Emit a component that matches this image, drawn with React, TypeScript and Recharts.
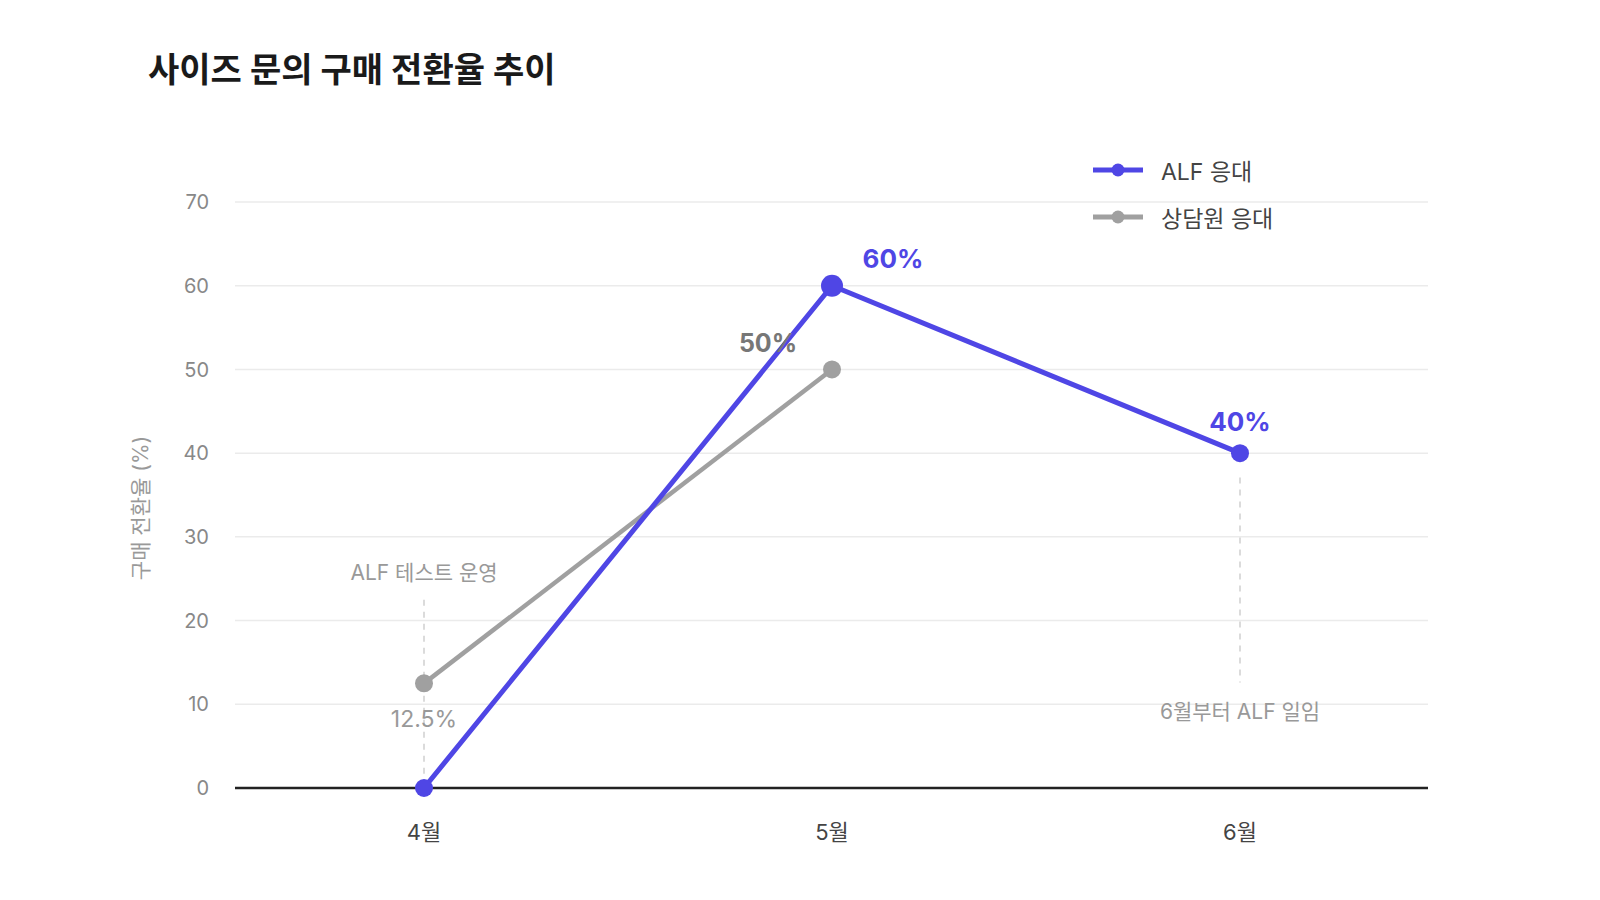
import React from "react";
import {
  LineChart,
  Line,
  XAxis,
  YAxis,
  CartesianGrid,
  Legend,
  LabelList,
  ReferenceLine,
  ReferenceDot,
} from "recharts";

const months = ["4월", "5월", "6월"];
const alfValues = [0, 60, 40];
const agentValues: (number | null)[] = [12.5, 50, null];
const yTicks = [0, 10, 20, 30, 40, 50, 60, 70];

const BLUE = "#4F46E5";
const GRAY = "#A0A0A0";
const FONT = "Inter, 'Noto Sans CJK KR', sans-serif";

const data = months.map((m, i) => ({ month: m, alf: alfValues[i], agent: agentValues[i] }));

const BlueDot = (props: any) => {
  const { cx, cy, index } = props;
  if (cx == null || cy == null) return null;
  return <circle cx={cx} cy={cy} r={index === 1 ? 11 : 9} fill={BLUE} />;
};

const GrayDot = (props: any) => {
  const { cx, cy } = props;
  if (cx == null || cy == null) return null;
  return <circle cx={cx} cy={cy} r={9} fill={GRAY} />;
};

const alfLabel = (props: any) => {
  const { x, y, value, index } = props;
  if (!value) return null;
  const dx = index === 1 ? 61 : 0;
  const dy = index === 1 ? -27 : -31;
  return (
    <text x={x + dx} y={y + dy} dy={9} textAnchor="middle" fill={BLUE} fontSize={26} fontWeight={700} fontFamily={FONT}>
      {value}%
    </text>
  );
};

const agentLabel = (props: any) => {
  const { x, y, value, index } = props;
  if (value == null) return null;
  if (index === 0) {
    return (
      <text x={x} y={y + 36} dy={8} textAnchor="middle" fill="#999" fontSize={23} fontFamily={FONT}>
        {value}%
      </text>
    );
  }
  return (
    <text x={x - 64} y={y - 26} dy={9} textAnchor="middle" fill="#777" fontSize={25} fontWeight={700} fontFamily={FONT}>
      {value}%
    </text>
  );
};

const legendItems = [
  { name: "ALF 응대", color: BLUE },
  { name: "상담원 응대", color: GRAY },
];

const LegendContent = () => (
  <div style={{ fontFamily: FONT }}>
    {legendItems.map((it) => (
      <div key={it.name} style={{ display: "flex", alignItems: "center", height: 47 }}>
        <svg width={50} height={14} style={{ marginRight: 18 }}>
          <line x1={0} y1={7} x2={50} y2={7} stroke={it.color} strokeWidth={5} />
          <circle cx={25} cy={7} r={6.5} fill={it.color} />
        </svg>
        <span style={{ fontSize: 23, color: "#444" }}>{it.name}</span>
      </div>
    ))}
  </div>
);

const YLabel = (props: any) => {
  const { viewBox } = props;
  const x = viewBox.x - 15;
  const y = viewBox.y + viewBox.height / 2 + 13;
  return (
    <text x={x} y={y} transform={`rotate(-90, ${x}, ${y})`} textAnchor="middle" dominantBaseline="central" fill="#999" fontSize={21} fontFamily={FONT}>
      구매 전환율 (%)
    </text>
  );
};

export default function App() {
  return (
    <div style={{ position: "absolute", left: 0, top: 0, width: 1600, height: 900, background: "#fff", fontFamily: FONT }}>
      <div style={{ position: "absolute", left: 148, top: 49, fontSize: 34, fontWeight: 700, color: "#1a1a1a", lineHeight: "42px" }}>
        사이즈 문의 구매 전환율 추이
      </div>
      <LineChart width={1600} height={900} data={data} margin={{ top: 202, right: 172, bottom: 52, left: 155 }}>
        <CartesianGrid vertical={false} stroke="#ebebeb" strokeWidth={1.5} />
        <XAxis
          dataKey="month"
          padding={{ left: 189, right: 188 }}
          height={60}
          axisLine={{ stroke: "#222", strokeWidth: 2.5 }}
          tickLine={false}
          tickMargin={30}
          tick={{ fill: "#444", fontSize: 22, fontFamily: FONT }}
        />
        <YAxis
          width={80}
          domain={[0, 70]}
          ticks={yTicks}
          axisLine={false}
          tickLine={false}
          tickMargin={20}
          tick={{ fill: "#888", fontSize: 20, fontFamily: FONT }}
          label={<YLabel />}
        />
        <ReferenceLine
          segment={[{ x: "4월", y: 22.5 }, { x: "4월", y: 0 }]}
          stroke="#cfcfcf"
          strokeWidth={1.5}
          strokeDasharray="6 6"
        />
        <ReferenceLine
          segment={[{ x: "6월", y: 37.1 }, { x: "6월", y: 12.6 }]}
          stroke="#cfcfcf"
          strokeWidth={1.5}
          strokeDasharray="6 6"
        />
        <ReferenceDot
          x="4월"
          y={25.7}
          r={0}
          fill="none"
          stroke="none"
          label={{ value: "ALF 테스트 운영", position: "center", fill: "#999", fontSize: 21, fontFamily: FONT }}
        />
        <ReferenceDot
          x="6월"
          y={9.1}
          r={0}
          fill="none"
          stroke="none"
          label={{ value: "6월부터 ALF 일임", position: "center", fill: "#999", fontSize: 21, fontFamily: FONT }}
        />
        <Line
          dataKey="agent"
          name="상담원 응대"
          stroke={GRAY}
          strokeWidth={4.5}
          dot={<GrayDot />}
          activeDot={false}
          isAnimationActive={false}
        >
          <LabelList dataKey="agent" content={agentLabel} />
        </Line>
        <Line
          dataKey="alf"
          name="ALF 응대"
          stroke={BLUE}
          strokeWidth={5}
          dot={<BlueDot />}
          activeDot={false}
          isAnimationActive={false}
        >
          <LabelList dataKey="alf" content={alfLabel} />
        </Line>
        <Legend
          layout="horizontal"
          verticalAlign="middle"
          align="center"
          content={<LegendContent />}
          wrapperStyle={{ position: "absolute", left: 1093, top: 146, width: 260 }}
        />
      </LineChart>
    </div>
  );
}
